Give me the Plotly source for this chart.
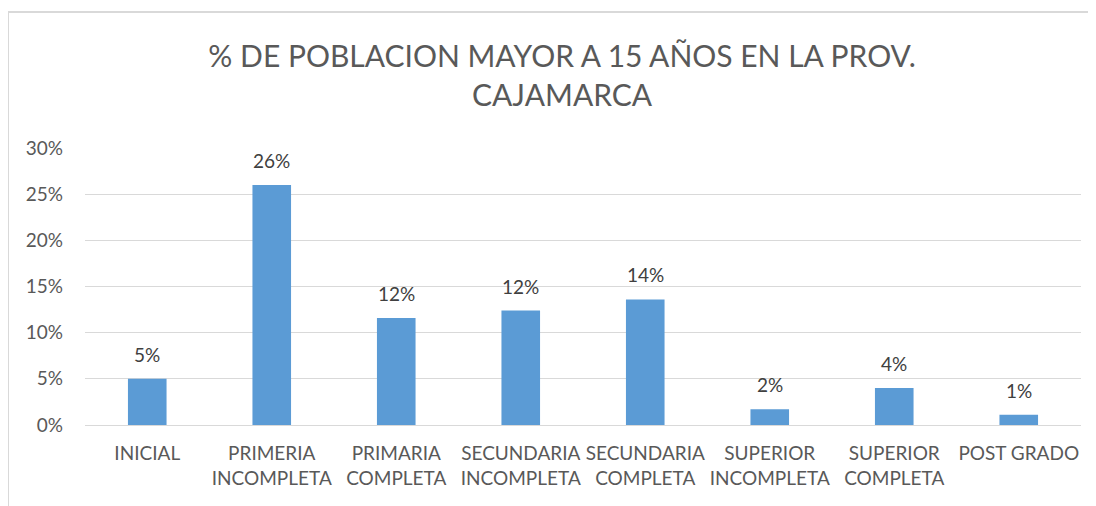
import plotly.graph_objects as go

categories = ["INICIAL", "PRIMERIA<br>INCOMPLETA", "PRIMARIA<br>COMPLETA", "SECUNDARIA<br>INCOMPLETA",
              "SECUNDARIA<br>COMPLETA", "SUPERIOR<br>INCOMPLETA", "SUPERIOR<br>COMPLETA", "POST GRADO"]
values = [0.050, 0.260, 0.116, 0.124, 0.136, 0.017, 0.040, 0.011]
title_text = "% DE POBLACION MAYOR A 15 AÑOS EN LA PROV.<br>CAJAMARCA"

FONT = "Lato"
GREY = "#595959"

fig = go.Figure()
fig.add_trace(go.Bar(x=categories, y=values, marker=dict(color="#5b9bd5", line=dict(width=0)),
                     hoverinfo="skip"))

for c, v in zip(categories, values):
    fig.add_annotation(x=c, y=v, xref="x", yref="y", text=f"{v:.0%}", showarrow=False,
                       yanchor="bottom", yshift=11, font=dict(family=FONT, size=19, color="#404040"))

fig.update_layout(
    width=1096, height=506,
    margin=dict(l=77, r=23, t=140, b=89),
    paper_bgcolor="white", plot_bgcolor="white",
    bargap=0.69, showlegend=False,
    font=dict(family=FONT, size=19, color=GREY),
    title=dict(text=title_text, x=0.479, xanchor="center", xref="paper",
               y=1 - 59/506, yanchor="top", font=dict(family=FONT, size=30, color=GREY)),
)
fig.update_yaxes(range=[0, 0.30], dtick=0.05, tickformat=".0%", showgrid=True,
                 gridcolor="#d9d9d9", gridwidth=1, zeroline=False, showline=False,
                 ticks="", ticklabelstandoff=21, tickfont=dict(family=FONT, size=19, color=GREY))
fig.update_xaxes(showline=True, linecolor="#d9d9d9", linewidth=1, ticks="",
                 ticklabelstandoff=11, tickfont=dict(family=FONT, size=19, color=GREY))

# chart area border (left and top visible)
fig.add_shape(type="line", xref="paper", yref="paper", x0=-77/996, x1=1.05, y0=1 + 136/277, y1=1 + 136/277,
              line=dict(color="#d9d9d9", width=2))
fig.add_shape(type="line", xref="paper", yref="paper", x0=-77/996, x1=-77/996, y0=-1, y1=1 + 136/277,
              line=dict(color="#d9d9d9", width=2))

fig.write_html("out.html")
